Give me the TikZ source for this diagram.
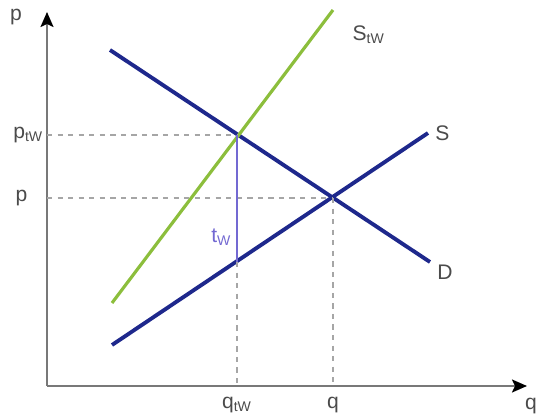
\documentclass[tikz,border=0pt]{standalone}
\usepackage{fontspec}
\setmainfont{Liberation Sans}
\usetikzlibrary{arrows.meta, positioning}

\definecolor{navy}{RGB}{30,40,140}
\definecolor{lgreen}{RGB}{140,190,60}
\definecolor{taxcol}{RGB}{115,105,210}
\definecolor{axisgray}{RGB}{120,120,120}
\definecolor{labgray}{RGB}{75,75,75}

\begin{document}
\begin{tikzpicture}[
    x=0.02cm, y=-0.02cm,
    >={Stealth[length=3mm, width=2.6mm, inset=0.6mm, black]},
    axis/.style={->, draw=axisgray, line width=1.1pt},
    curve/.style={draw=navy, line width=2.2pt},
    taxcurve/.style={draw=lgreen, line width=1.8pt},
    guide/.style={draw=gray!70, dashed, line width=0.6pt},
    lab/.style={font=\fontsize{12}{14}\selectfont, text=labgray, inner sep=1pt}
]
\useasboundingbox (0,0) rectangle (539,419);

% axes
\coordinate (orig) at (47,386);
\coordinate (ytop) at (47,12);
\coordinate (xend) at (527,386);
\draw[axis] (orig) -- (ytop);
\draw[axis] (orig) -- (xend);
\node[lab] (plab) at (16,17) {p};
\node[lab] (qlab) at (531,406) {q};

% curves
\coordinate (d0) at (110,50);
\coordinate (d1) at (430,262);
\coordinate (s0) at (112,345);
\coordinate (s1) at (428,133);
\coordinate (t0) at (112,303);
\coordinate (t1) at (333,10);
\draw[curve] (d0) -- (d1);
\draw[curve] (s0) -- (s1);
\draw[taxcurve] (t0) -- (t1);

% equilibrium points
\coordinate (eq) at (333,198);
\coordinate (eqt) at (237,135);
\coordinate (eqs) at (237,262);
\coordinate (yp) at (47,198);
\coordinate (ypt) at (47,135);
\coordinate (xq) at (333,386);
\coordinate (xqt) at (237,386);

\draw[guide] (ypt) -- (eqt);
\draw[guide] (yp) -- (eq);
\draw[guide] (eq) -- (xq);
\draw[guide] (eqs) -- (xqt);
\draw[draw=taxcol, line width=0.8pt] (eqt) -- (eqs);

% labels
\node[lab, left=1pt of ypt] (ptwlab) {p\textsubscript{tW}};
\node[lab, left=10pt of yp] (peqlab) {p};
\node[lab, below=5pt of xqt] (qtwlab) {q\textsubscript{tW}};
\node[lab, below=5pt of xq] (qeqlab) {q};
\node[lab, right=10pt of t1, yshift=-0.5cm] (stwlab) {S\textsubscript{tW}};
\node[lab, right=3pt of s1] (slab) {S};
\node[lab, right=3pt of d1, yshift=-0.2cm] (dlab) {D};
\node[lab, text=taxcol, left=2pt of eqs, yshift=0.5cm] (twlab) {t\textsubscript{W}};
\end{tikzpicture}
\end{document}
